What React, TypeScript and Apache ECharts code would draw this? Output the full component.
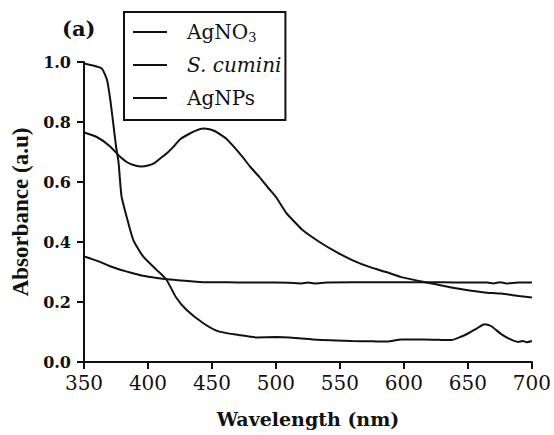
import React, { useEffect, useRef } from "react";
import * as echarts from "echarts";

const seriesNames = ["AgNO3", "S. cumini", "AgNPs"];

const agno3Wl = [350, 355, 363, 370, 376, 383, 389, 395, 402, 410, 415, 425, 440, 455, 470, 490, 510, 520, 525, 530, 540, 580, 620, 640, 665, 670, 675, 680, 690, 700];
const agno3Abs = [0.352, 0.345, 0.333, 0.32, 0.311, 0.302, 0.295, 0.288, 0.283, 0.278, 0.276, 0.272, 0.267, 0.266, 0.265, 0.265, 0.264, 0.262, 0.265, 0.262, 0.265, 0.266, 0.266, 0.265, 0.265, 0.262, 0.266, 0.262, 0.265, 0.265];

const cuminiWl = [350, 355, 359, 364, 368, 370.6, 373.2, 375, 377, 379.3, 383.2, 388.4, 396, 406.5, 414.3, 422, 430, 443, 455, 471, 485, 500, 515, 532, 547, 559, 575, 587, 598, 615, 637, 645, 650, 657, 663, 668, 676, 683, 689, 693, 696, 700];
const cuminiAbs = [0.995, 0.99, 0.986, 0.978, 0.94, 0.872, 0.783, 0.72, 0.665, 0.553, 0.486, 0.408, 0.353, 0.308, 0.275, 0.215, 0.174, 0.13, 0.102, 0.09, 0.082, 0.083, 0.08, 0.074, 0.072, 0.07, 0.069, 0.068, 0.075, 0.075, 0.073, 0.085, 0.095, 0.112, 0.126, 0.12, 0.093, 0.076, 0.067, 0.07, 0.066, 0.07];

const agnpsWl = [350, 360, 370, 378, 384, 390, 395, 400, 405, 410, 415, 420, 425, 432, 438, 443, 448, 452, 457, 461, 467, 474, 480, 487, 494, 500, 508, 515, 521, 534, 547, 560, 573, 586, 598, 612, 625, 637, 650, 663, 676, 690, 700];
const agnpsAbs = [0.765, 0.75, 0.72, 0.685, 0.665, 0.655, 0.652, 0.655, 0.663, 0.68, 0.697, 0.718, 0.742, 0.76, 0.772, 0.778, 0.776, 0.77, 0.757, 0.745, 0.718, 0.683, 0.65, 0.617, 0.58, 0.55, 0.497, 0.465, 0.439, 0.4, 0.367, 0.339, 0.317, 0.3, 0.283, 0.27, 0.259, 0.248, 0.239, 0.232, 0.228, 0.22, 0.215];

const pair = (xs: number[], ys: number[]) => xs.map((x, i) => [x, ys[i]]);

export default function App() {
  const ref = useRef<HTMLDivElement>(null);
  useEffect(() => {
    if (!ref.current) return;
    const chart = echarts.init(ref.current, undefined, { renderer: "svg" });
    const lineStyle = { color: "#111", width: 2 };
    const serif = "DejaVu Serif";
    const common = { type: "line", showSymbol: false, symbol: "none", smooth: 0.2, lineStyle, itemStyle: { color: "#111" } };
    chart.setOption({
      animation: false,
      backgroundColor: "#fff",
      grid: { left: 84, right: 20, top: 62, bottom: 73, containLabel: false },
      legend: {
        orient: "vertical",
        left: 124,
        top: 12,
        data: seriesNames,
        icon: "rect",
        itemWidth: 34,
        itemHeight: 2,
        itemGap: 9,
        padding: [8, 4, 10, 9],
        borderColor: "#111",
        borderWidth: 2,
        inactiveColor: "#111",
        itemStyle: { color: "#111" },
        formatter: (name: string) =>
          name === "AgNO3" ? "{n|AgNO}{sub|3}" : name === "S. cumini" ? "{i|S. cumini}" : "{n|AgNPs}",
        textStyle: {
          color: "#111",
          fontFamily: serif,
          fontSize: 20,
          lineHeight: 24,
          padding: [0, 0, 0, 15],
          rich: {
            n: { fontFamily: serif, fontSize: 20, color: "#111", lineHeight: 24 },
            sub: { fontFamily: serif, fontSize: 13, color: "#111", verticalAlign: "bottom", lineHeight: 16 },
            i: { fontFamily: serif, fontStyle: "italic", fontSize: 20, color: "#111", lineHeight: 24 },
          },
        },
      },
      xAxis: {
        type: "value",
        min: 350,
        max: 700,
        interval: 50,
        name: "Wavelength (nm)",
        nameLocation: "middle",
        nameGap: 47,
        nameTextStyle: { fontFamily: serif, fontWeight: "bold", fontSize: 19, color: "#111" },
        axisLine: { show: true, onZero: false, lineStyle: { color: "#111", width: 2 } },
        axisTick: { show: true, length: 7, lineStyle: { color: "#111", width: 2 } },
        axisLabel: { fontFamily: serif, fontSize: 20, color: "#111", margin: 11 },
        splitLine: { show: false },
      },
      yAxis: {
        type: "value",
        min: 0,
        max: 1,
        interval: 0.2,
        name: "Absorbance (a.u)",
        nameLocation: "middle",
        nameRotate: 90,
        nameGap: 52,
        nameTextStyle: { fontFamily: "Liberation Serif", fontWeight: "bold", fontSize: 23, color: "#111" },
        axisLine: { show: true, onZero: false, lineStyle: { color: "#111", width: 2 } },
        axisTick: { show: true, length: 7, lineStyle: { color: "#111", width: 2 } },
        axisLabel: {
          fontFamily: serif,
          fontWeight: "bold",
          fontSize: 16,
          color: "#111",
          margin: 13,
          formatter: (v: number) => v.toFixed(1),
        },
        splitLine: { show: false },
      },
      graphic: [
        {
          type: "text",
          left: 62,
          top: 18,
          style: { text: "(a)", fontFamily: serif, fontWeight: "bold", fontSize: 21, fill: "#111" },
        },
      ],
      series: [
        { ...common, name: "AgNO3", data: pair(agno3Wl, agno3Abs) },
        { ...common, name: "S. cumini", data: pair(cuminiWl, cuminiAbs) },
        { ...common, name: "AgNPs", data: pair(agnpsWl, agnpsAbs) },
      ],
    });
    return () => chart.dispose();
  }, []);
  return <div ref={ref} style={{ position: "absolute", left: 0, top: 0, width: 554, height: 435 }} />;
}
